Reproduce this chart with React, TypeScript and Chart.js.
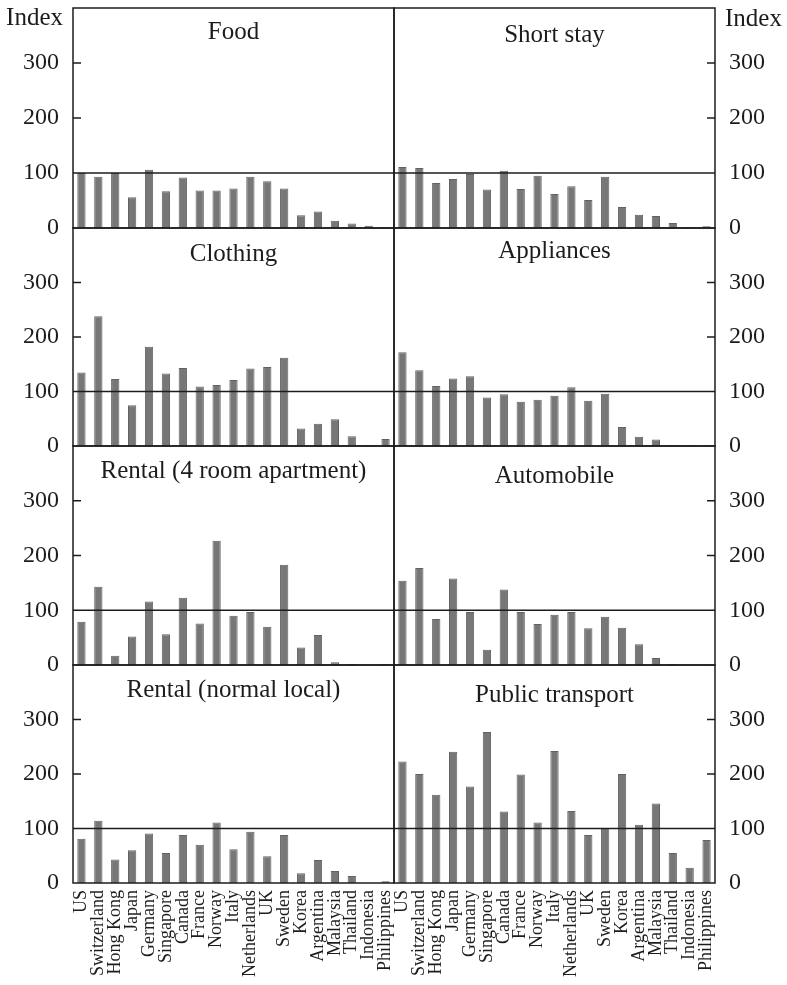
import React, { useEffect, useRef } from 'react';
import { Chart, registerables } from 'chart.js';

Chart.register(...registerables);

// ---------- data ----------
const countries = [
  'US', 'Switzerland', 'Hong Kong', 'Japan', 'Germany', 'Singapore', 'Canada', 'France', 'Norway',
  'Italy', 'Netherlands', 'UK', 'Sweden', 'Korea', 'Argentina', 'Malaysia', 'Thailand', 'Indonesia', 'Philippines',
];

const food = [100, 93, 100, 56, 106, 67, 92, 68, 68, 72, 93, 85, 72, 23, 30, 13, 8, 4, 2];
const shortStay = [111, 109, 82, 89, 98, 70, 104, 71, 95, 62, 76, 51, 93, 38, 24, 22, 9, 2, 3];
const clothing = [135, 238, 123, 75, 182, 133, 143, 109, 112, 121, 142, 145, 162, 32, 41, 49, 18, 2, 13];
const appliances = [172, 139, 110, 124, 128, 89, 95, 81, 85, 92, 108, 83, 96, 35, 17, 12, 2, 1, 1];
const rental4Room = [79, 143, 17, 52, 116, 56, 123, 76, 227, 90, 97, 70, 183, 32, 55, 5, 2, 0, 2];
const automobile = [154, 177, 84, 158, 97, 28, 138, 97, 75, 92, 97, 67, 88, 68, 38, 13, 2, 0, 1];
const rentalLocal = [81, 114, 43, 60, 91, 55, 88, 70, 111, 62, 94, 49, 88, 18, 42, 22, 13, 0, 3];
const publicTransport = [223, 200, 162, 241, 177, 277, 131, 199, 111, 242, 132, 88, 101, 200, 107, 146, 55, 28, 79];

const yTicks = [0, 100, 200, 300];
const yMax = 400;
const referenceLevel = 100;
const axisTitle = 'Index';

// ---------- layout ----------
const FONT = "'Liberation Serif', 'Times New Roman', Times, serif";
const INK = '#1c1c1c';
const PAGE_W = 787;
const PAGE_H = 985;
const AXIS_LEFT = 73;
const MID = 394;
const AXIS_RIGHT = 715;
const ROW_TOPS = [8, 228, 446, 665];
const ROW_BOTTOMS = [228, 446, 665, 883];
const PAD = 32;
const SIDE_PAD = 22;

type Side = 'left' | 'right';
interface PanelDef {
  title: string;
  values: number[];
  side: Side;
  row: number;
  titleDy: number;
}

const panels: PanelDef[] = [
  { title: 'Food', values: food, side: 'left', row: 0, titleDy: 31 },
  { title: 'Short stay', values: shortStay, side: 'right', row: 0, titleDy: 34 },
  { title: 'Clothing', values: clothing, side: 'left', row: 1, titleDy: 33 },
  { title: 'Appliances', values: appliances, side: 'right', row: 1, titleDy: 30 },
  { title: 'Rental (4 room apartment)', values: rental4Room, side: 'left', row: 2, titleDy: 32 },
  { title: 'Automobile', values: automobile, side: 'right', row: 2, titleDy: 37 },
  { title: 'Rental (normal local)', values: rentalLocal, side: 'left', row: 3, titleDy: 32 },
  { title: 'Public transport', values: publicTransport, side: 'right', row: 3, titleDy: 37 },
];

function makeFramePlugin(def: PanelDef) {
  return {
    id: 'frame',
    afterDatasetsDraw(chart: any) {
      const { ctx, chartArea: a, scales } = chart;
      const y = scales.y;
      const isLeft = def.side === 'left';
      ctx.save();
      ctx.strokeStyle = INK;
      ctx.lineWidth = 1.5;
      ctx.strokeRect(a.left, a.top, a.right - a.left, a.bottom - a.top);
      const line = (x1: number, y1: number, x2: number, y2: number) => {
        ctx.beginPath();
        ctx.moveTo(x1, y1);
        ctx.lineTo(x2, y2);
        ctx.stroke();
      };
      const yRef = y.getPixelForValue(referenceLevel);
      line(a.left, yRef, a.right, yRef);
      for (const v of yTicks) {
        if (v === 0 || v === referenceLevel) continue;
        const py = y.getPixelForValue(v);
        if (isLeft) line(a.left, py, a.left + 8, py);
        else line(a.right - 8, py, a.right, py);
      }
      ctx.fillStyle = INK;
      ctx.font = `25px ${FONT}`;
      ctx.textAlign = 'center';
      ctx.textBaseline = 'alphabetic';
      ctx.fillText(def.title, (a.left + a.right) / 2, a.top + def.titleDy);
      if (def.row === 0) {
        ctx.textBaseline = 'middle';
        if (isLeft) {
          ctx.textAlign = 'right';
          ctx.fillText(axisTitle, a.left - 10, a.top + 10);
        } else {
          ctx.textAlign = 'left';
          ctx.fillText(axisTitle, a.right + 10, a.top + 11);
        }
      }
      ctx.restore();
    },
  };
}

function Panel({ def }: { def: PanelDef }) {
  const ref = useRef<HTMLCanvasElement>(null);
  const isLeft = def.side === 'left';
  const bottomRow = def.row === ROW_TOPS.length - 1;
  const canvasLeft = isLeft ? 0 : MID - SIDE_PAD;
  const canvasWidth = isLeft ? MID + SIDE_PAD : PAGE_W - canvasLeft;
  const canvasTop = ROW_TOPS[def.row] - PAD;
  const canvasHeight = bottomRow ? PAGE_H - canvasTop : ROW_BOTTOMS[def.row] - canvasTop + PAD;

  useEffect(() => {
    const xScale: any = {
      display: bottomRow,
      grid: { display: false, drawTicks: false },
      border: { display: false },
      ticks: {
        autoSkip: false,
        maxRotation: 90,
        minRotation: 90,
        padding: 7,
        color: INK,
        font: { family: FONT, size: 18 },
      },
    };
    if (bottomRow) {
      xScale.afterFit = (s: any) => {
        s.height = PAGE_H - ROW_BOTTOMS[ROW_BOTTOMS.length - 1];
      };
    }
    const chart = new Chart(ref.current as HTMLCanvasElement, {
      type: 'bar',
      data: {
        labels: countries,
        datasets: [
          {
            data: def.values,
            backgroundColor: '#777777',
            borderColor: '#626262',
            borderWidth: 1,
            barPercentage: 0.49,
            categoryPercentage: 1,
          },
        ],
      },
      options: {
        animation: false,
        responsive: false,
        devicePixelRatio: 1,
        layout: {
          padding: {
            top: PAD,
            bottom: bottomRow ? 0 : PAD,
            left: isLeft ? 0 : SIDE_PAD,
            right: isLeft ? SIDE_PAD : 0,
          },
        },
        plugins: {
          legend: { display: false },
          tooltip: { enabled: false },
          title: { display: false },
        },
        scales: {
          x: xScale,
          y: {
            position: isLeft ? 'left' : 'right',
            min: 0,
            max: yMax,
            grid: { display: false, drawTicks: false },
            border: { display: false },
            afterBuildTicks: (s: any) => {
              s.ticks = yTicks.map((v) => ({ value: v }));
            },
            ticks: {
              stepSize: 100,
              padding: 14,
              color: INK,
              font: { family: FONT, size: 24 },
            },
            afterFit: (s: any) => {
              s.width = isLeft ? AXIS_LEFT : PAGE_W - AXIS_RIGHT;
            },
          },
        },
      } as any,
      plugins: [makeFramePlugin(def)],
    });
    return () => chart.destroy();
  }, []);

  return (
    <canvas
      ref={ref}
      width={canvasWidth}
      height={canvasHeight}
      style={{ position: 'absolute', left: canvasLeft, top: canvasTop, width: canvasWidth, height: canvasHeight }}
    />
  );
}

export default function App() {
  return (
    <div style={{ position: 'absolute', left: 0, top: 0, width: PAGE_W, height: PAGE_H, background: '#fff', overflow: 'hidden' }}>
      {panels.map((p) => (
        <Panel key={p.title} def={p} />
      ))}
    </div>
  );
}
